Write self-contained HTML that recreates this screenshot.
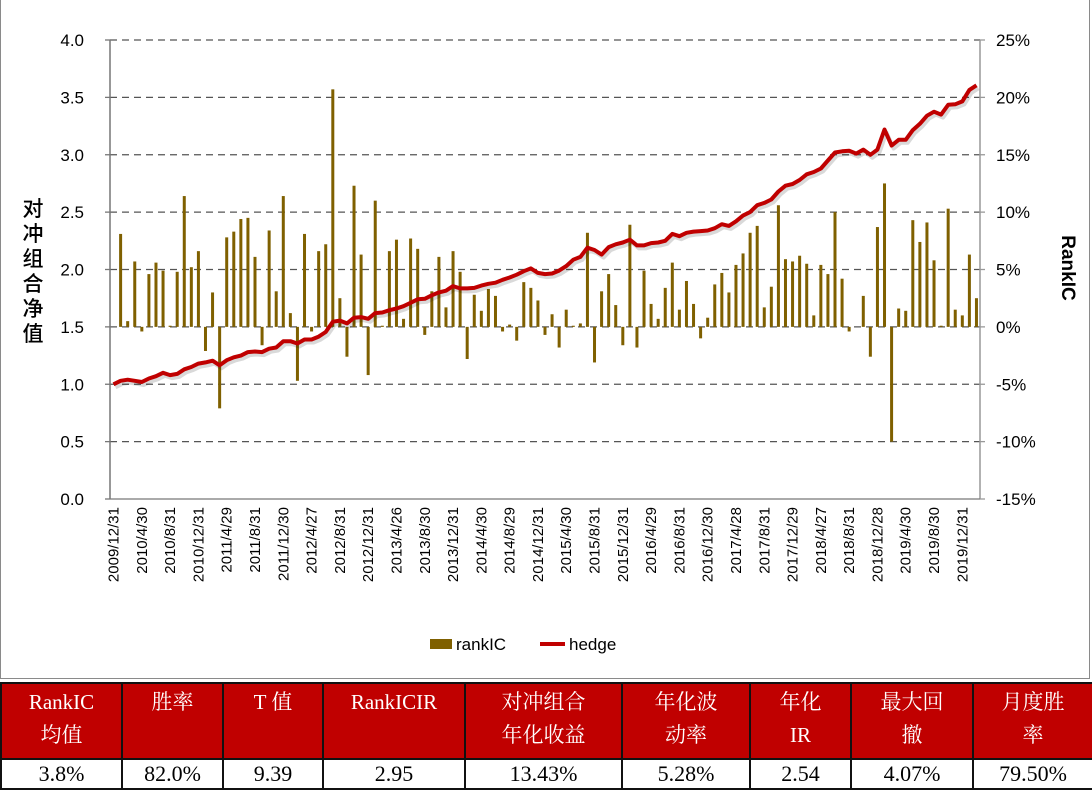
<!DOCTYPE html>
<html><head><meta charset="utf-8"><style>
html,body{margin:0;padding:0;background:#fff;}
body{width:1092px;height:789px;position:relative;overflow:hidden;font-family:"Liberation Sans","Noto Sans CJK SC",sans-serif;}
#frame{position:absolute;left:0;top:-2px;width:1090px;height:681px;border:1px solid #8a8a8a;box-sizing:border-box;}
table{position:absolute;left:0;top:682px;border-collapse:collapse;width:1092px;table-layout:fixed;font-family:"Liberation Serif","Noto Serif CJK SC",serif;}
td{border:2px solid #111;text-align:center;padding:0;}
tr.h td{background:#c00000;color:#fff;font-size:21px;line-height:33px;height:72px;vertical-align:top;padding-top:2px;}
tr.d td{font-size:22px;height:28px;line-height:28px;color:#000;}
</style></head><body>
<div id="frame"></div>
<svg id="chart" width="1092" height="680" style="position:absolute;left:0;top:0"></svg>
<table>
<colgroup><col style="width:121px"><col style="width:101px"><col style="width:100px"><col style="width:142px"><col style="width:157px"><col style="width:128px"><col style="width:101px"><col style="width:122px"><col style="width:120px"></colgroup>
<tr class="h">
<td>RankIC<br>均值</td>
<td>胜率</td>
<td>T 值</td>
<td>RankICIR</td>
<td>对冲组合<br>年化收益</td>
<td>年化波<br>动率</td>
<td>年化<br>IR</td>
<td>最大回<br>撤</td>
<td>月度胜<br>率</td>
</tr>
<tr class="d">
<td>3.8%</td>
<td>82.0%</td>
<td>9.39</td>
<td>2.95</td>
<td>13.43%</td>
<td>5.28%</td>
<td>2.54</td>
<td>4.07%</td>
<td>79.50%</td>
</tr>
</table>
<script>
const tickLabels = ["2009/12/31","2010/4/30","2010/8/31","2010/12/31","2011/4/29","2011/8/31","2011/12/30","2012/4/27","2012/8/31","2012/12/31","2013/4/26","2013/8/30","2013/12/31","2014/4/30","2014/8/29","2014/12/31","2015/4/30","2015/8/31","2015/12/31","2016/4/29","2016/8/31","2016/12/30","2017/4/28","2017/8/31","2017/12/29","2018/4/27","2018/8/31","2018/12/28","2019/4/30","2019/8/30","2019/12/31"];
const rankIC = [0,
8.1,0.5,5.7,-0.4,4.6,5.6,4.9,0.1,4.8,11.4,5.2,6.6,-2.1,3.0,-7.1,7.8,8.3,9.4,9.5,6.1,-1.6,8.4,3.1,11.4,1.2,-4.7,8.1,-0.4,6.6,7.2,20.7,
2.5,-2.6,12.3,6.3,-4.2,11.0,0.1,6.6,7.6,0.7,7.7,6.8,-0.7,3.1,6.1,1.7,6.6,4.8,-2.8,2.8,1.4,3.3,2.7,-0.4,0.2,-1.2,3.9,3.4,2.3,-0.7,1.1,
-1.8,1.5,0.1,0.3,8.2,-3.1,3.1,4.6,1.9,-1.6,8.9,-1.8,4.9,2.0,0.7,3.4,5.6,1.5,4.0,2.0,-1.0,0.8,3.7,4.7,3.0,5.4,6.4,8.2,8.8,1.7,3.5,
10.6,5.9,5.7,6.2,5.5,1.0,5.4,4.6,10.0,4.2,-0.4,0,2.7,-2.6,8.7,12.5,-10.0,1.6,1.4,9.3,7.4,9.1,5.8,0.1,10.3,1.5,1.0,6.3,2.5];
const hedge = [1.00,1.03,1.04,1.03,1.02,1.05,1.07,1.10,1.08,1.09,1.13,1.15,1.18,1.19,1.205,1.165,1.21,1.235,1.25,1.28,1.285,1.28,1.31,1.32,1.375,1.375,1.355,1.39,1.39,1.415,1.455,1.545,
1.555,1.53,1.58,1.585,1.57,1.62,1.625,1.645,1.66,1.68,1.71,1.74,1.745,1.775,1.80,1.815,1.855,1.835,1.835,1.84,1.86,1.875,1.885,1.91,1.93,1.955,1.985,2.01,1.97,1.96,1.965,
1.99,2.03,2.085,2.11,2.19,2.17,2.13,2.195,2.22,2.235,2.26,2.21,2.21,2.23,2.235,2.25,2.31,2.29,2.32,2.33,2.335,2.34,2.36,2.395,2.38,2.42,2.47,2.50,2.56,2.58,
2.61,2.68,2.73,2.745,2.78,2.83,2.85,2.88,2.95,3.02,3.03,3.035,3.01,3.045,3.00,3.045,3.22,3.08,3.13,3.13,3.215,3.27,3.34,3.375,3.35,3.435,3.44,3.465,3.565,3.605];
const leftTicks = ["0.0","0.5","1.0","1.5","2.0","2.5","3.0","3.5","4.0"];
const rightTicks = ["-15%","-10%","-5%","0%","5%","10%","15%","20%","25%"];

const NS="http://www.w3.org/2000/svg";
const svg=document.getElementById('chart');
const X0=110,X1=980,Y0=499,Y1=40;
const N=hedge.length, step=(X1-X0)/N;
function xc(i){return X0+step*(i+0.5);}
function yL(v){return Y0-(v/4)*(Y0-Y1);}
function yR(p){return Y0-((p+15)/40)*(Y0-Y1);}
function el(tag,attrs,parent){const e=document.createElementNS(NS,tag);for(const k in attrs)e.setAttribute(k,attrs[k]);(parent||svg).appendChild(e);return e;}

for(let k=0;k<leftTicks.length;k++){
  const y=yL(k*0.5);
  if(k>0){const g=el('line',{x1:X0,x2:X1,y1:y,y2:y,stroke:'#555','stroke-width':1.3,'stroke-dasharray':'7,5'});
  
  }
  const t=el('line',{x1:X0-5,x2:X0,y1:y,y2:y,stroke:'#777','stroke-width':1.3});
  
  
  const tx=el('text',{x:84,y:y+6,'text-anchor':'end','font-size':17,fill:'#000'});
  tx.textContent=leftTicks[k];
  
  
  const rt=el('text',{x:996,y:yR(-15+k*5)+6,'font-size':17,fill:'#000'});
  rt.textContent=rightTicks[k];
  
  
  const rtk=el('line',{x1:X1,x2:X1+5,y1:y,y2:y,stroke:'#999','stroke-width':1.3});
  
  
}
const ax=el('line',{x1:X0,x2:X0,y1:Y1,y2:Y0,stroke:'#777','stroke-width':1.5});


const ax2=el('line',{x1:X1,x2:X1,y1:Y1,y2:Y0,stroke:'#999','stroke-width':1.5});


const xa=el('line',{x1:X0,x2:X1,y1:Y0,y2:Y0,stroke:'#777','stroke-width':1.3});



const zeroY=yR(0);
for(let i=0;i<N;i++){
  const v=rankIC[i]; if(!v) continue;
  const y=yR(v);
  const b=el('rect',{x:xc(i)-1.5,y:Math.min(y,zeroY),width:3,height:Math.max(1,Math.abs(zeroY-y)),fill:'#7f6000'});
  
  
}
let d='';
for(let i=0;i<N;i++){d+=(i?'L':'M')+xc(i).toFixed(1)+','+yL(hedge[i]).toFixed(1);}
const sh=el('path',{d:d,fill:'none',stroke:'rgba(0,0,0,0.15)','stroke-width':4,transform:'translate(2,3)','stroke-linejoin':'round'});


const ln=el('path',{d:d,fill:'none',stroke:'#c00000','stroke-width':4,'stroke-linejoin':'round'});



for(let k=0;k<tickLabels.length;k++){
  const x=xc(k*4)+5;
  const t=el('text',{x:x,y:507,'text-anchor':'end','font-size':15,fill:'#000',transform:`rotate(-90 ${x} 507)`});
  t.textContent=tickLabels[k];
  
  
}
const yt=el('text',{x:33,y:208,'font-size':21,'font-weight':'500',fill:'#000','text-anchor':'middle','font-family':'"Noto Sans CJK SC",sans-serif'});


"对冲组合净值".split('').forEach((c,j)=>{const s=el('tspan',{x:33,y:216+j*25},yt);s.textContent=c;});
const rtt=el('text',{x:1062,y:268,'font-size':19,'font-weight':'bold',fill:'#000','text-anchor':'middle',transform:'rotate(90 1062 268)'});
rtt.textContent='RankIC';


const lg=el('g',{});


const s1=el('rect',{x:430,y:639,width:22,height:10,fill:'#7f6000'},lg);


const l1=el('text',{x:456,y:650,'font-size':17,fill:'#000'},lg);l1.textContent='rankIC';


const s2=el('line',{x1:540,x2:565,y1:644,y2:644,stroke:'#c00000','stroke-width':4},lg);


const l2=el('text',{x:569,y:650,'font-size':17,fill:'#000'},lg);l2.textContent='hedge';


</script>
</body></html>
